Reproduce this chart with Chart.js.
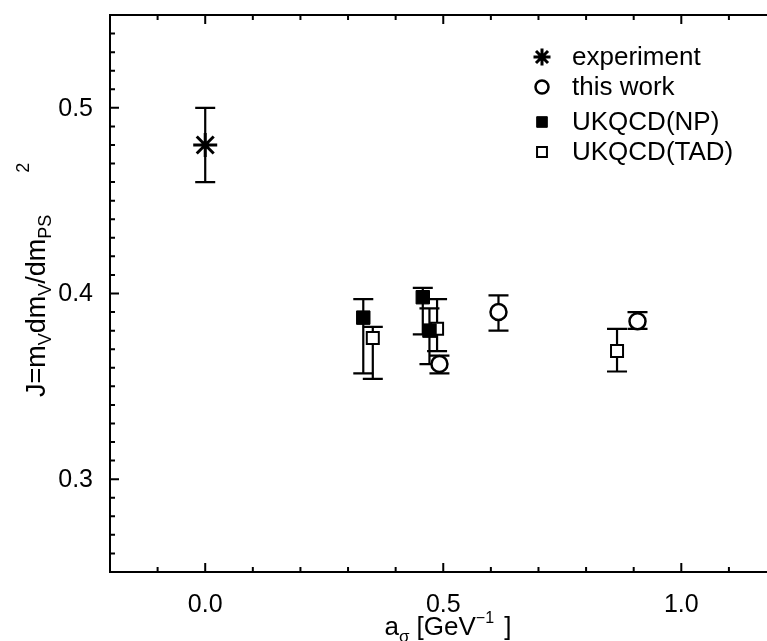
<!DOCTYPE html>
<html lang="en">
<head>
  <meta charset="UTF-8">
  <title>J vs a_sigma</title>
  <script src="https://cdn.jsdelivr.net/npm/chart.js"></script>
  <style>
    html, body { margin: 0; padding: 0; background: #fff; overflow: hidden; }
    .wrap { position: relative; width: 767px; height: 641px; }
  </style>
</head>
<body>
  <div class="wrap"><canvas id="chart" width="767" height="641"></canvas></div>
  <script>
    // tick labels
    const xTicks = [0.0, 0.5, 1.0];
    const yTicks = [0.3, 0.4, 0.5];

    // experiment
    const expX = [0.0];
    const expY = [0.48];
    const expHi = [0.50];
    const expLo = [0.46];

    // this work
    const workX = [0.492, 0.616, 0.908];
    const workY = [0.362, 0.390, 0.385];
    const workHi = [0.3665, 0.399, 0.390];
    const workLo = [0.357, 0.380, 0.381];

    // UKQCD(NP)
    const npX = [0.332, 0.457, 0.471];
    const npY = [0.387, 0.398, 0.380];
    const npHi = [0.397, 0.403, 0.392];
    const npLo = [0.357, 0.378, 0.362];

    // UKQCD(TAD)
    const tadX = [0.352, 0.487, 0.865];
    const tadY = [0.376, 0.381, 0.369];
    const tadHi = [0.382, 0.397, 0.381];
    const tadLo = [0.354, 0.369, 0.358];

    const FONT = 'Arial, "Liberation Sans", Helvetica, sans-serif';

    function pts(xs, ys) {
      return xs.map((x, i) => ({ x: x, y: ys[i] }));
    }

    // draws text pieces one after another, some of them raised or lowered
    function drawPieces(ctx, pieces, x, y) {
      let cx = x;
      pieces.forEach(p => {
        ctx.font = p.size + 'px ' + FONT;
        ctx.fillText(p.t, cx, y + (p.dy || 0));
        cx += ctx.measureText(p.t).width + (p.gap || 0);
      });
      return cx - x;
    }

    function piecesWidth(ctx, pieces) {
      let w = 0;
      pieces.forEach(p => {
        ctx.font = p.size + 'px ' + FONT;
        w += ctx.measureText(p.t).width + (p.gap || 0);
      });
      return w;
    }

    const frame = {
      id: 'frame',
      beforeDatasetsDraw(chart) {
        const ctx = chart.ctx;
        const ys = chart.scales.y;
        ctx.save();
        ctx.strokeStyle = '#000';
        ctx.lineWidth = 2.2;
        chart.data.datasets.forEach((ds, i) => {
          const meta = chart.getDatasetMeta(i);
          meta.data.forEach((el, j) => {
            const px = el.x;
            const top = ys.getPixelForValue(ds.errHi[j]);
            const bot = ys.getPixelForValue(ds.errLo[j]);
            ctx.beginPath();
            ctx.moveTo(px, top); ctx.lineTo(px, bot);
            ctx.moveTo(px - 10, top); ctx.lineTo(px + 10, top);
            ctx.moveTo(px - 10, bot); ctx.lineTo(px + 10, bot);
            ctx.stroke();
          });
        });
        ctx.restore();
      },
      afterDraw(chart) {
        const ctx = chart.ctx;
        const a = chart.chartArea;
        const xs = chart.scales.x;
        const ys = chart.scales.y;
        ctx.save();
        ctx.strokeStyle = '#000';
        ctx.fillStyle = '#000';
        ctx.lineWidth = 2;

        // frame: left, bottom, top (right side runs off the page)
        ctx.beginPath();
        ctx.moveTo(a.right, a.top); ctx.lineTo(a.left, a.top);
        ctx.lineTo(a.left, a.bottom); ctx.lineTo(a.right, a.bottom);
        ctx.stroke();

        // inward ticks
        ctx.beginPath();
        for (let k = -2; k <= 11; k++) {
          const px = xs.getPixelForValue(k / 10);
          const len = k % 5 === 0 ? 9 : 5;
          ctx.moveTo(px, a.bottom); ctx.lineTo(px, a.bottom - len);
          ctx.moveTo(px, a.top); ctx.lineTo(px, a.top + len);
        }
        for (let k = 25; k <= 55; k++) {
          const py = ys.getPixelForValue(k / 100);
          const len = k % 10 === 0 ? 9 : 5;
          ctx.moveTo(a.left, py); ctx.lineTo(a.left + len, py);
        }
        ctx.stroke();

        // tick labels
        ctx.font = '25px ' + FONT;
        ctx.textAlign = 'center';
        ctx.textBaseline = 'alphabetic';
        xTicks.forEach(v => ctx.fillText(v.toFixed(1), xs.getPixelForValue(v), a.bottom + 40));
        ctx.textAlign = 'right';
        ctx.textBaseline = 'middle';
        yTicks.forEach(v => ctx.fillText(v.toFixed(1), a.left - 17, ys.getPixelForValue(v) + 1));

        // legend
        const legend = [
          { ds: 0, text: 'experiment', y: 57, r: 8.5 },
          { ds: 1, text: 'this work', y: 87, r: 6.5 },
          { ds: 2, text: 'UKQCD(NP)', y: 122, r: 7.5 },
          { ds: 3, text: 'UKQCD(TAD)', y: 152, r: 7 }
        ];
        legend.forEach(item => {
          const d = chart.data.datasets[item.ds];
          ctx.fillStyle = d.pointBackgroundColor;
          ctx.strokeStyle = '#000';
          ctx.lineWidth = d.pointBorderWidth;
          Chart.helpers.drawPoint(ctx, {
            pointStyle: d.pointStyle, radius: item.r, rotation: 0, borderWidth: d.pointBorderWidth
          }, 542, item.y);
          ctx.fillStyle = '#000';
          ctx.font = '26px ' + FONT;
          ctx.textAlign = 'left';
          ctx.textBaseline = 'middle';
          ctx.fillText(item.text, 572, item.y + 1);
        });

        // x title
        ctx.textBaseline = 'alphabetic';
        ctx.textAlign = 'left';
        const xt = [
          { t: 'a', size: 26 },
          { t: '\u03c3', size: 17, dy: 7 },
          { t: ' [GeV', size: 26 },
          { t: '\u22121', size: 16, dy: -12, gap: 3 },
          { t: ' ]', size: 26 }
        ];
        const xw = piecesWidth(ctx, xt);
        drawPieces(ctx, xt, 448 - xw / 2, 635);

        // y title, rotated
        ctx.save();
        ctx.translate(45, 397);
        ctx.rotate(-Math.PI / 2);
        const yt = [
          { t: 'J=m', size: 27 },
          { t: 'V', size: 18, dy: 6 },
          { t: 'dm', size: 27 },
          { t: 'V', size: 18, dy: 6 },
          { t: '/dm', size: 27 },
          { t: 'PS', size: 18, dy: 6, gap: 42 },
          { t: '2', size: 18, dy: -16 }
        ];
        drawPieces(ctx, yt, 0, 0);
        ctx.restore();

        ctx.restore();
      }
    };

    new Chart(document.getElementById('chart'), {
      type: 'scatter',
      data: {
        datasets: [
          {
            label: 'experiment',
            data: pts(expX, expY),
            errHi: expHi, errLo: expLo,
            pointStyle: 'star',
            pointRadius: 12,
            pointBorderWidth: 3,
            pointBorderColor: '#000',
            pointBackgroundColor: '#000'
          },
          {
            label: 'this work',
            data: pts(workX, workY),
            errHi: workHi, errLo: workLo,
            pointStyle: 'circle',
            pointRadius: 8,
            pointBorderWidth: 2.5,
            pointBorderColor: '#000',
            pointBackgroundColor: '#fff'
          },
          {
            label: 'UKQCD(NP)',
            data: pts(npX, npY),
            errHi: npHi, errLo: npLo,
            pointStyle: 'rect',
            pointRadius: 9.5,
            pointBorderWidth: 1,
            pointBorderColor: '#000',
            pointBackgroundColor: '#000'
          },
          {
            label: 'UKQCD(TAD)',
            data: pts(tadX, tadY),
            errHi: tadHi, errLo: tadLo,
            pointStyle: 'rect',
            pointRadius: 8.5,
            pointBorderWidth: 2,
            pointBorderColor: '#000',
            pointBackgroundColor: '#fff'
          }
        ]
      },
      options: {
        responsive: false,
        animation: false,
        layout: { autoPadding: false, padding: { top: 15, right: 0, left: 0, bottom: 0 } },
        plugins: { legend: { display: false }, tooltip: { enabled: false } },
        scales: {
          x: {
            type: 'linear',
            min: -0.2,
            max: 1.18,
            afterBuildTicks: s => { s.ticks = xTicks.map(v => ({ value: v })); },
            afterFit: s => { s.height = 69; },
            grid: { display: false, drawTicks: false },
            border: { display: false },
            ticks: { display: false }
          },
          y: {
            type: 'linear',
            min: 0.25,
            max: 0.55,
            afterBuildTicks: s => { s.ticks = yTicks.map(v => ({ value: v })); },
            afterFit: s => { s.width = 110; },
            grid: { display: false, drawTicks: false },
            border: { display: false },
            ticks: { display: false }
          }
        }
      },
      plugins: [frame]
    });
  </script>
</body>
</html>
